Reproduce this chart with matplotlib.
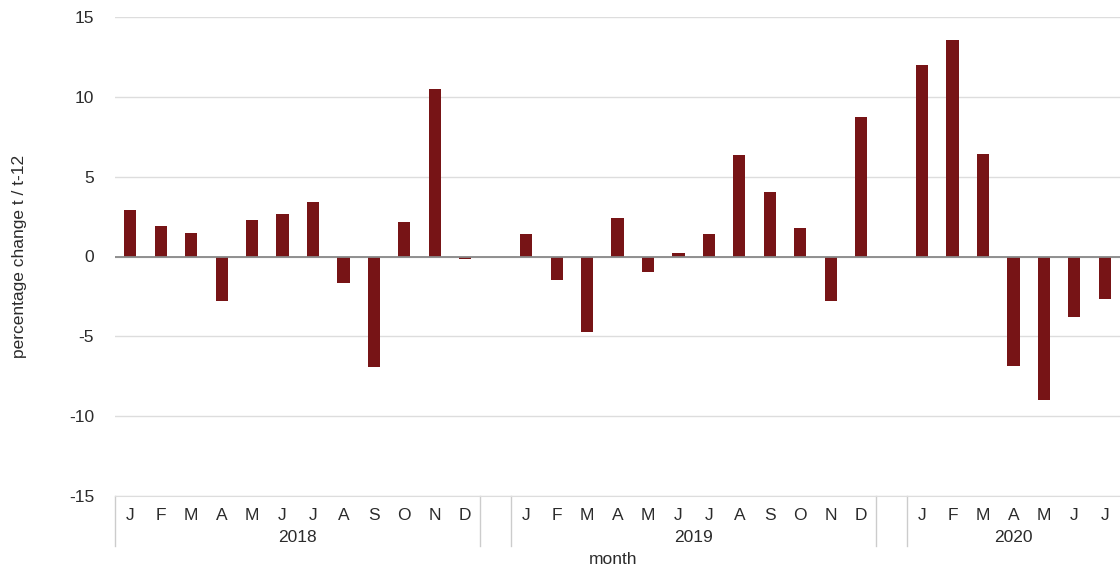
import numpy as np
import matplotlib
matplotlib.use('Agg')
import matplotlib.pyplot as plt
import matplotlib.transforms as mtransforms

plt.rcParams['font.family'] = ['Liberation Sans', 'DejaVu Sans']
plt.rcParams['axes.unicode_minus'] = False

# data
years = ['2018', '2019', '2020']
months = ['J', 'F', 'M', 'A', 'M', 'J', 'J', 'A', 'S', 'O', 'N', 'D']
vals_2018 = [2.9, 1.9, 1.5, -2.77, 2.28, 2.68, 3.39, -1.65, -6.94, 2.13, 10.5, -0.15]
vals_2019 = [1.4, -1.46, -4.73, 2.43, -1.0, 0.21, 1.38, 6.36, 4.02, 1.76, -2.77, 8.74]
vals_2020 = [11.99, 13.58, 6.4, -6.83, -8.96, -3.79, -2.65]
groups = [vals_2018, vals_2019, vals_2020]

bar_color = '#771416'
text_color = '#2b2b2b'

fig = plt.figure(figsize=(11.2, 5.66), dpi=100)
ax = fig.add_axes([115 / 1120, 1 - 496 / 566, 1 - 115 / 1120, 479 / 566])

# positions: one empty slot between the years
xs, ys, labels, bounds = [], [], [], []
pos = 0
for vals in groups:
    start = pos
    for i, v in enumerate(vals):
        xs.append(pos)
        ys.append(v)
        labels.append(months[i])
        pos += 1
    bounds.append((start, pos - 1))
    pos += 1

ax.bar(xs, ys, width=0.4, color=bar_color, zorder=3)

ax.set_xlim(-0.5, 32.5)
ax.set_ylim(-15, 15)
ax.set_yticks(np.arange(-15, 16, 5))
ax.grid(axis='y', color='#dddddd', linewidth=1, zorder=0)
ax.axhline(0, color='#888888', linewidth=1.3, zorder=4)
for s in ['top', 'right', 'left']:
    ax.spines[s].set_visible(False)
ax.spines['bottom'].set_color('#dddddd')

ax.set_xticks(xs)
ax.set_xticklabels(labels)
ax.tick_params(axis='x', length=0, pad=9, labelsize=12.5, labelcolor=text_color)
ax.tick_params(axis='y', length=0, pad=15, labelsize=12.5, labelcolor=text_color)

# group separators and year labels below the axis
trans = mtransforms.blended_transform_factory(ax.transData, ax.transAxes)
sep_x = [-0.5]
for s, e in bounds:
    sep_x.append(e + 0.5)
    sep_x.append(e + 1.5)
sep_x = [x for x in sep_x if x < 32.4]
for x in sep_x:
    ax.plot([x, x], [0, -0.104], transform=trans, color='#cccccc',
            linewidth=1, clip_on=False)
for (s, e), yr in zip(bounds, years):
    ax.text((s + e) / 2, -0.086, yr, transform=trans, ha='center', va='center',
            fontsize=12.5, color=text_color)

fig.text(613 / 1120, 1 - 560 / 566, 'month', ha='center', va='center',
         fontsize=12.5, color=text_color)
fig.text(20 / 1120, 1 - 256 / 566, 'percentage change t / t-12', ha='center',
         va='center', rotation=90, fontsize=12.5, color=text_color)

fig.savefig('out.png', dpi=100)
